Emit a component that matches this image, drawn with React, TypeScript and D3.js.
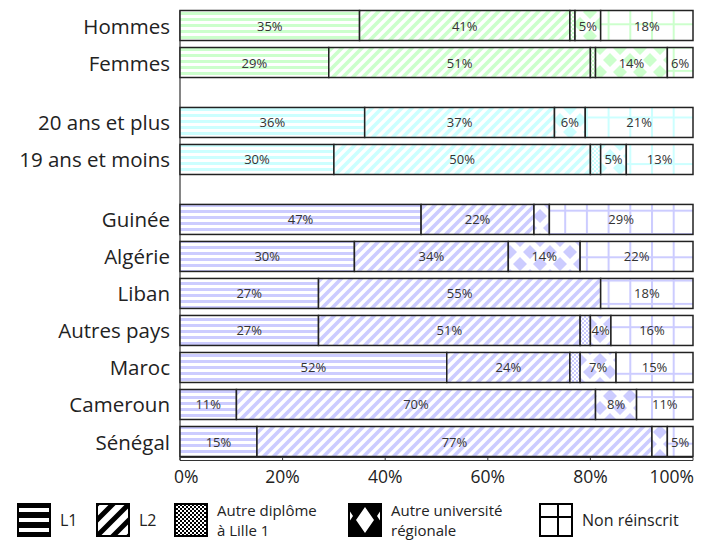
import React from "react";
import * as d3 from "d3";

const categories = ["Hommes", "Femmes", "20 ans et plus", "19 ans et moins", "Guinée", "Algérie", "Liban", "Autres pays", "Maroc", "Cameroun", "Sénégal"];
const groupOf = [0, 0, 1, 1, 2, 2, 2, 2, 2, 2, 2];
const groupColors = ["#ccffcc", "#ccffff", "#ccccff"];
const seriesKeys = ["l1", "l2", "ad", "au", "nr"];
const legendNames = [["L1"], ["L2"], ["Autre diplôme", "à Lille 1"], ["Autre université", "régionale"], ["Non réinscrit"]];

// segment widths (%)
const l1 = [35, 29, 36, 30, 47, 34, 27, 27, 52, 11, 15];
const l2 = [41, 51, 37, 50, 22, 30, 55, 51, 24, 70, 77];
const autreDiplome = [1, 1, 0, 2, 0, 0, 0, 2, 2, 0, 0];
const autreUniv = [5, 14, 6, 5, 3, 14, 0, 4, 7, 8, 3];
const nonReinscrit = [18, 5, 21, 13, 28, 22, 18, 16, 15, 11, 5];

// printed labels (as shown on the chart)
const l1Labels = [35, 29, 36, 30, 47, 30, 27, 27, 52, 11, 15];
const l2Labels = [41, 51, 37, 50, 22, 34, 55, 51, 24, 70, 77];
const adLabels = [null, null, null, null, null, null, null, null, null, null, null];
const auLabels = [5, 14, 6, 5, null, 14, null, 4, 7, 8, null];
const nrLabels = [18, 6, 21, 13, 29, 22, 18, 16, 15, 11, 5];

const xTicks = [0, 20, 40, 60, 80, 100];

const FONT = "'Open Sans', 'Noto Sans', sans-serif";

const values = [l1, l2, autreDiplome, autreUniv, nonReinscrit];
const labels = [l1Labels, l2Labels, adLabels, auLabels, nrLabels];

export default function App() {
  const x = d3.scaleLinear().domain([0, 100]).range([180, 693]);
  const slot = (i: number) => i + groupOf[i] * 0.62;
  const y = d3.scaleLinear().domain([0, 10 + 2 * 0.62]).range([25.5, 441.5]);
  const barH = 30;

  const rows = categories.map((c, i) => {
    const vals = values.map((v) => v[i]);
    const stackStarts = d3.cumsum([0, ...vals.slice(0, -1)]);
    return { c, i, vals, starts: Array.from(stackStarts) };
  });

  const patId = (s: string, g: number) => `p-${s}-${g}`;

  const defs = groupColors.map((col, g) => (
    <g key={g}>
      <pattern id={patId("l1", g)} patternUnits="userSpaceOnUse" width={6} height={6}>
        <rect width={6} height={6} fill="#fff" />
        <rect width={6} height={3} fill={col} />
      </pattern>
      <pattern id={patId("l2", g)} patternUnits="userSpaceOnUse" width={10} height={10}>
        <rect width={10} height={10} fill="#fff" />
        <path d="M-2,12 L12,-2 M-7,7 L7,-7 M3,17 L17,3" stroke={col} strokeWidth={3.6} />
      </pattern>
      <pattern id={patId("ad", g)} patternUnits="userSpaceOnUse" width={4} height={4}>
        <rect width={4} height={4} fill="#fff" />
        <rect width={2} height={2} fill={col} />
        <rect x={2} y={2} width={2} height={2} fill={col} />
      </pattern>
      <pattern id={patId("au", g)} patternUnits="userSpaceOnUse" width={20} height={24}>
        <rect width={20} height={24} fill="#fff" />
        <path
          d="M0,-7 L7,0 L0,7 L-7,0 Z M20,-7 L27,0 L20,7 L13,0 Z M0,17 L7,24 L0,31 L-7,24 Z M20,17 L27,24 L20,31 L13,24 Z M10,5 L17,12 L10,19 L3,12 Z"
          fill={col}
        />
      </pattern>
      <pattern id={patId("nr", g)} patternUnits="userSpaceOnUse" width={21.7} height={23.3}>
        <rect width={21.7} height={23.3} fill="#fff" />
        <rect x={0} y={0} width={2} height={23.3} fill={col} />
        <rect x={0} y={0} width={21.7} height={2} fill={col} />
      </pattern>
    </g>
  ));

  const legendX = [18, 97, 175, 349, 540];
  const legendY = 504;
  const icon = 32;

  return (
    <svg width={710} height={541} style={{ position: "absolute", left: 0, top: 0, display: "block" }} fontFamily={FONT}>
      <defs>
        {defs}
        <pattern id="k-l1" patternUnits="userSpaceOnUse" width={10} height={10} y={legendY}>
          <rect width={10} height={10} fill="#000" />
          <rect y={4} width={10} height={4} fill="#fff" />
        </pattern>
        <pattern id="k-l2" patternUnits="userSpaceOnUse" width={16} height={16} x={97} y={legendY}>
          <rect width={16} height={16} fill="#fff" />
          <path d="M-4,20 L20,-4 M-12,12 L12,-12 M4,28 L28,4" stroke="#000" strokeWidth={5} />
        </pattern>
        <pattern id="k-ad" patternUnits="userSpaceOnUse" width={4} height={4}>
          <rect width={4} height={4} fill="#fff" />
          <rect width={2} height={2} fill="#000" />
          <rect x={2} y={2} width={2} height={2} fill="#000" />
        </pattern>
        <pattern id="k-au" patternUnits="userSpaceOnUse" width={32} height={32} x={349} y={legendY}>
          <rect width={32} height={32} fill="#000" />
          <path d="M16,3 L25,16 L16,29 L7,16 Z M0,6 L4,12 L0,18 Z M32,6 L28,12 L32,18 Z" fill="#fff" />
        </pattern>
      </defs>

      {/* left axis line */}
      <line x1={x(0)} x2={x(0)} y1={y(slot(0)) - barH / 2} y2={460} stroke="#333" strokeWidth={1.2} />

      {rows.map((r) => {
        const g = groupOf[r.i];
        const cy = y(slot(r.i));
        return (
          <g key={r.c}>
            <text x={170} y={cy} textAnchor="end" dominantBaseline="central" fontSize={20.5} fill="#222">
              {r.c}
            </text>
            {r.vals.map((v, s) => {
              if (v <= 0) return null;
              const x0 = x(r.starts[s]);
              const x1 = x(r.starts[s] + v);
              const lab = labels[s][r.i];
              return (
                <g key={s}>
                  <rect
                    x={x0}
                    y={cy - barH / 2}
                    width={x1 - x0}
                    height={barH}
                    fill={`url(#${patId(seriesKeys[s], g)})`}
                    stroke="#222"
                    strokeWidth={1.5}
                  />
                  {lab != null && (
                    <text x={(x0 + x1) / 2} y={cy} textAnchor="middle" dominantBaseline="central" fontSize={13} fill="#333">
                      {lab}%
                    </text>
                  )}
                </g>
              );
            })}
          </g>
        );
      })}

      {/* bottom axis */}
      <g stroke="#333" strokeWidth={1}>
        <line x1={x(0)} x2={x(100)} y1={457.5} y2={457.5} />
        <line x1={x(0)} x2={x(100)} y1={460.5} y2={460.5} />
        {xTicks.map((t) => (
          <line key={t} x1={x(t)} x2={x(t)} y1={457.5} y2={460.5} />
        ))}
      </g>
      {xTicks.map((t, k) => (
        <text
          key={t}
          x={k === 0 ? x(t) - 6 : k === xTicks.length - 1 ? x(t) + 1 : x(t)}
          y={476}
          textAnchor={k === 0 ? "start" : k === xTicks.length - 1 ? "end" : "middle"}
          dominantBaseline="central"
          fontSize={17.5}
          fill="#222"
        >
          {t}%
        </text>
      ))}

      {/* legend */}
      {legendNames.map((lines, k) => {
        const lx = legendX[k];
        const key = seriesKeys[k];
        return (
          <g key={key}>
            {key === "nr" ? (
              <g>
                <rect x={lx} y={legendY} width={icon} height={icon} fill="#fff" stroke="#000" strokeWidth={2} />
                <line x1={lx + 18} x2={lx + 18} y1={legendY} y2={legendY + icon} stroke="#000" strokeWidth={2} />
                <line x1={lx} x2={lx + icon} y1={legendY + 13} y2={legendY + 13} stroke="#000" strokeWidth={2} />
              </g>
            ) : (
              <rect x={lx} y={legendY} width={icon} height={icon} fill={`url(#k-${key})`} stroke="#000" strokeWidth={2} />
            )}
            {lines.map((ln, j) => (
              <text
                key={j}
                x={lx + icon + 10}
                y={lines.length === 1 ? legendY + icon / 2 : legendY + 5.5 + j * 20.5}
                dominantBaseline="central"
                fontSize={lines.length === 1 ? 16 : 15}
                fill="#222"
              >
                {ln}
              </text>
            ))}
          </g>
        );
      })}
    </svg>
  );
}
